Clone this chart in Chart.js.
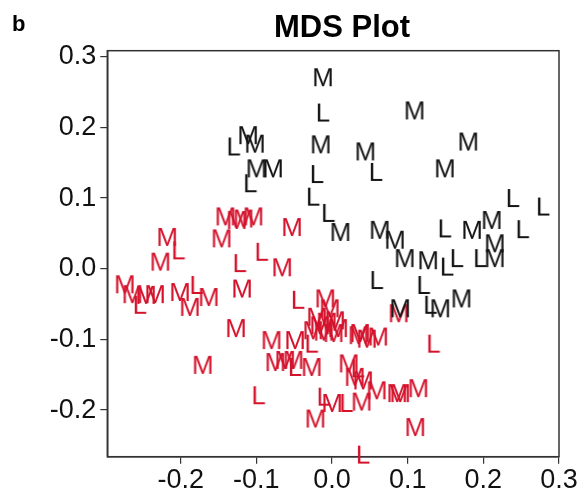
<!DOCTYPE html>
<html>
<head>
<meta charset="utf-8">
<script src="https://cdn.jsdelivr.net/npm/chart.js@4/dist/chart.umd.min.js"></script>
<style>
html,body{margin:0;padding:0;background:#fff;}
#wrap{width:582px;height:494px;position:relative;}
</style>
</head>
<body>
<div id="wrap"><canvas id="c" width="582" height="494"></canvas></div>
<script>
// ---- data (MDS coordinates) ----
const titleText = "MDS Plot";
const panelLabel = "b";
const xTicks = [-0.2, -0.1, 0.0, 0.1, 0.2, 0.3];
const yTicks = [-0.2, -0.1, 0.0, 0.1, 0.2, 0.3];

const blackM = [
  [-0.012,0.271],[-0.015,0.176],[0.109,0.224],[0.180,0.180],[0.044,0.166],[0.149,0.142],
  [-0.111,0.189],[-0.102,0.177],[-0.100,0.142],[-0.078,0.142],[0.011,0.052],[0.063,0.055],
  [0.083,0.041],[0.096,0.015],[0.127,0.012],[0.185,0.055],[0.211,0.069],[0.215,0.036],
  [0.215,0.015],[0.171,-0.042],[0.090,-0.056],[0.143,-0.056]
];
const blackL = [
  [-0.012,0.221],[-0.020,0.134],[-0.025,0.102],[-0.005,0.079],[0.058,0.137],[-0.130,0.173],
  [-0.108,0.121],[0.239,0.100],[0.279,0.088],[0.149,0.057],[0.252,0.056],[0.152,0.003],
  [0.165,0.015],[0.196,0.015],[0.059,-0.016],[0.121,-0.023],[0.130,-0.051]
];
const redM = [
  [-0.141,0.074],[-0.126,0.069],[-0.117,0.071],[-0.104,0.074],[-0.146,0.043],[-0.053,0.059],
  [-0.218,0.045],[-0.227,0.010],[-0.066,0.002],[-0.274,-0.022],[-0.264,-0.036],[-0.246,-0.037],
  [-0.234,-0.036],[-0.201,-0.033],[-0.188,-0.054],[-0.163,-0.040],[-0.119,-0.028],[-0.127,-0.084],
  [-0.171,-0.136],[-0.009,-0.042],[-0.003,-0.056],[-0.020,-0.068],[-0.007,-0.075],[0.004,-0.073],
  [-0.025,-0.087],[-0.011,-0.089],[0.002,-0.091],[-0.049,-0.101],[-0.080,-0.101],[0.035,-0.094],
  [0.046,-0.099],[0.061,-0.096],[0.088,-0.063],[-0.075,-0.132],[-0.062,-0.129],[-0.051,-0.129],
  [-0.027,-0.139],[0.022,-0.134],[0.030,-0.153],[0.041,-0.158],[0.059,-0.172],[0.086,-0.176],
  [0.090,-0.176],[0.114,-0.169],[0.000,-0.190],[0.039,-0.188],[-0.022,-0.212],[0.110,-0.224],
  [0.037,-0.091],[-0.016,-0.080],[0.008,-0.084]
];
const redL = [
  [-0.203,0.026],[-0.122,0.008],[-0.093,0.024],[-0.254,-0.051],[-0.179,-0.023],[-0.045,-0.044],
  [-0.027,-0.106],[-0.049,-0.139],[-0.097,-0.179],[-0.011,-0.181],[0.019,-0.190],[0.034,-0.141],
  [0.134,-0.106],[0.041,-0.263]
];

// ---- styles ----
const FONT = "'Liberation Sans', Arial, Helvetica, sans-serif";
const BLACK = "#141414";
const RED = "#d4122c";

function letterImage(ch, color, size) {
  const cv = document.createElement('canvas');
  cv.width = 36; cv.height = 36;
  const g = cv.getContext('2d');
  g.fillStyle = color;
  g.font = size + "px " + FONT;
  g.textAlign = 'center';
  g.textBaseline = 'alphabetic';
  g.fillText(ch, 18, 18 + size * 0.716 / 2);
  return cv;
}
const LETTER_SIZE = 26;
const toPts = arr => arr.map(p => ({x: p[0], y: p[1]}));
function ds(label, arr, ch, color) {
  return {
    label, data: toPts(arr),
    pointStyle: letterImage(ch, color, LETTER_SIZE),
    pointRadius: 12, pointHoverRadius: 12,
    clip: false, showLine: false
  };
}

const boxPlugin = {
  id: 'box',
  beforeDatasetsDraw(chart) {
    const a = chart.chartArea, ctx = chart.ctx;
    ctx.save();
    ctx.strokeStyle = '#333';
    ctx.lineWidth = 1.5;
    ctx.strokeRect(a.left, a.top, a.right - a.left, a.bottom - a.top);
    ctx.restore();
  },
  afterDraw(chart) {
    const ctx = chart.ctx;
    ctx.save();
    ctx.fillStyle = '#000';
    ctx.textBaseline = 'alphabetic';
    ctx.font = "bold 31px " + FONT;
    ctx.textAlign = 'center';
    ctx.fillText(titleText, 342, 37);
    ctx.font = "bold 22px " + FONT;
    ctx.textAlign = 'left';
    ctx.fillText(panelLabel, 12, 31);
    ctx.restore();
  }
};

const fmt = v => {
  const r = Math.round(v * 10) / 10;
  return (r === 0 ? 0 : r).toFixed(1);
};

new Chart(document.getElementById('c'), {
  type: 'scatter',
  data: {
    datasets: [
      ds('M (group 1)', blackM, 'M', BLACK),
      ds('L (group 1)', blackL, 'L', BLACK),
      ds('M (group 2)', redM, 'M', RED),
      ds('L (group 2)', redL, 'L', RED)
    ]
  },
  options: {
    responsive: false,
    animation: false,
    devicePixelRatio: 1,
    layout: { padding: { top: 50.7, right: 23, left: 0, bottom: 0 } },
    plugins: { legend: { display: false }, tooltip: { enabled: false }, title: { display: false } },
    scales: {
      x: {
        type: 'linear', min: -0.297, max: 0.3,
        afterBuildTicks: s => { s.ticks = xTicks.map(v => ({value: v})); },
        afterFit: s => { s.height = 37.3; },
        grid: { display: true, drawOnChartArea: false, drawTicks: true, tickLength: 7, color: '#333', lineWidth: 1.2 },
        border: { display: true, color: '#333', width: 1.5 },
        ticks: { callback: v => fmt(v), font: { family: FONT, size: 27 }, color: '#111', padding: 1, maxRotation: 0, autoSkip: false }
      },
      y: {
        type: 'linear', min: -0.266, max: 0.3085,
        afterBuildTicks: s => { s.ticks = yTicks.map(v => ({value: v})); },
        afterFit: s => { s.width = 107.3; },
        grid: { display: true, drawOnChartArea: false, drawTicks: true, tickLength: 7, color: '#333', lineWidth: 1.2 },
        border: { display: true, color: '#333', width: 1.5 },
        ticks: { callback: v => fmt(v), font: { family: FONT, size: 27 }, color: '#111', padding: 4, autoSkip: false }
      }
    }
  },
  plugins: [boxPlugin]
});
</script>
</body>
</html>
